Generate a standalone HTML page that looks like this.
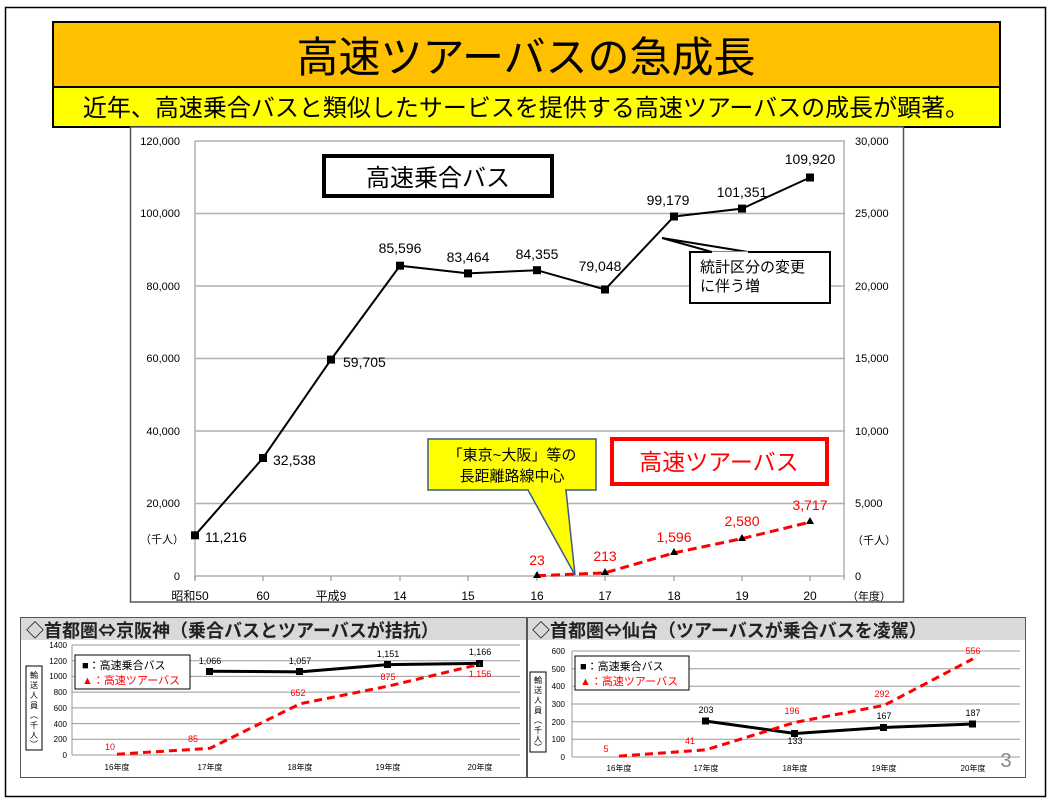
<!DOCTYPE html>
<html><head><meta charset="utf-8"><style>
body{margin:0;background:#fff;}
svg{display:block;font-family:"Liberation Sans","Noto Sans CJK JP",sans-serif;}
.cjk{font-family:"Noto Sans CJK JP","Liberation Sans",sans-serif;}
</style></head><body>
<svg width="1051" height="803" viewBox="0 0 1051 803" xmlns="http://www.w3.org/2000/svg">
<rect x="5.5" y="7.5" width="1040" height="789" fill="#fff" stroke="#000" stroke-width="1.5"/>
<rect x="53" y="22" width="947" height="65" fill="#FFC000" stroke="#000" stroke-width="2"/>
<text x="526" y="72" font-size="42" text-anchor="middle" fill="#000">高速ツアーバスの急成長</text>
<rect x="53" y="87" width="947" height="40" fill="#FFFF00" stroke="#000" stroke-width="2"/>
<text x="526" y="116" font-size="24" text-anchor="middle" fill="#000">近年、高速乗合バスと類似したサービスを提供する高速ツアーバスの成長が顕著。</text>
<rect x="130.5" y="127" width="773" height="475" fill="#fff" stroke="#555" stroke-width="1.5"/>
<g stroke="#b0b0b0" stroke-width="1.5">
<line x1="195" y1="141" x2="845" y2="141"/><line x1="195" y1="213.5" x2="845" y2="213.5"/>
<line x1="195" y1="286" x2="845" y2="286"/><line x1="195" y1="358.5" x2="845" y2="358.5"/>
<line x1="195" y1="431" x2="845" y2="431"/><line x1="195" y1="503.5" x2="845" y2="503.5"/>
<line x1="195" y1="576" x2="845" y2="576"/>
<line x1="195" y1="141" x2="195" y2="580"/><line x1="844" y1="141" x2="844" y2="580"/>
</g>
<g stroke="#888" stroke-width="1">
<line x1="195" y1="576" x2="195" y2="581"/><line x1="263" y1="576" x2="263" y2="581"/><line x1="331" y1="576" x2="331" y2="581"/><line x1="400" y1="576" x2="400" y2="581"/><line x1="468" y1="576" x2="468" y2="581"/><line x1="537" y1="576" x2="537" y2="581"/><line x1="605" y1="576" x2="605" y2="581"/><line x1="674" y1="576" x2="674" y2="581"/><line x1="742" y1="576" x2="742" y2="581"/><line x1="810" y1="576" x2="810" y2="581"/>
</g>
<g font-size="11" fill="#000" text-anchor="end">
<text x="180" y="145">120,000</text><text x="180" y="217">100,000</text><text x="180" y="290">80,000</text><text x="180" y="362">60,000</text><text x="180" y="435">40,000</text><text x="180" y="507">20,000</text><text x="180" y="580">0</text>
</g>
<g font-size="11" fill="#000">
<text x="855" y="145">30,000</text><text x="855" y="217">25,000</text><text x="855" y="290">20,000</text><text x="855" y="362">15,000</text><text x="855" y="435">10,000</text><text x="855" y="507">5,000</text><text x="855" y="580">0</text>
<text x="852" y="544">（千人）</text><text x="847" y="600">（年度）</text>
<text x="140" y="543">（千人）</text>
</g>
<g font-size="12" fill="#000" text-anchor="middle">
<text x="190" y="600">昭和50</text><text x="263" y="600">60</text><text x="331" y="600">平成9</text><text x="400" y="600">14</text><text x="468" y="600">15</text><text x="537" y="600">16</text><text x="605" y="600">17</text><text x="674" y="600">18</text><text x="742" y="600">19</text><text x="810" y="600">20</text>
</g>
<polyline fill="none" stroke="#000" stroke-width="2" points="195,535.3 263,458 331,359.6 400,265.7 468,273.4 537,270.2 605,289.5 674,216.5 742,208.6 810,177.5"/>
<g fill="#000">
<rect x="191" y="531.3" width="8" height="8"/><rect x="259" y="454" width="8" height="8"/><rect x="327" y="355.6" width="8" height="8"/><rect x="396" y="261.7" width="8" height="8"/><rect x="464" y="269.4" width="8" height="8"/><rect x="533" y="266.2" width="8" height="8"/><rect x="601" y="285.5" width="8" height="8"/><rect x="670" y="212.5" width="8" height="8"/><rect x="738" y="204.6" width="8" height="8"/><rect x="806" y="173.5" width="8" height="8"/>
</g>
<g font-size="14" fill="#000">
<text x="205" y="542">11,216</text><text x="273" y="465">32,538</text><text x="343" y="367">59,705</text>
<g text-anchor="middle"><text x="400" y="253">85,596</text><text x="468" y="262">83,464</text><text x="537" y="259">84,355</text><text x="600" y="271">79,048</text><text x="668" y="205">99,179</text><text x="742" y="197">101,351</text><text x="810" y="164">109,920</text></g>
</g>
<polyline fill="none" stroke="#f00" stroke-width="3" stroke-dasharray="9,5" points="537,575.7 605,572.9 674,552.9 742,538.6 810,522.1"/>
<g fill="#000">
<polygon points="537,571 541,578 533,578"/><polygon points="605,568 609,575 601,575"/><polygon points="674,548 678,555 670,555"/><polygon points="742,534 746,541 738,541"/><polygon points="810,517 814,524 806,524"/>
</g>
<g font-size="14" fill="#f00" text-anchor="middle">
<text x="537" y="565">23</text><text x="605" y="561">213</text><text x="674" y="542">1,596</text><text x="742" y="526">2,580</text><text x="810" y="510">3,717</text>
</g>
<rect x="324" y="156" width="228" height="40" fill="#fff" stroke="#000" stroke-width="4"/>
<text x="438" y="186" font-size="24" text-anchor="middle">高速乗合バス</text>
<rect x="690" y="252" width="140" height="51" fill="#fff" stroke="#000" stroke-width="2"/>
<polygon points="662,238 712,252 748,252" fill="#fff" stroke="#000" stroke-width="2"/>
<line x1="712" y1="253" x2="748" y2="253" stroke="#fff" stroke-width="3"/>
<text x="700" y="272" font-size="15">統計区分の変更</text><text x="700" y="291" font-size="15">に伴う増</text>
<polygon points="528,490 575,575 566,490" fill="#FFFF00" stroke="#3a5a8c" stroke-width="1.5"/>
<rect x="428" y="439" width="168" height="51" fill="#FFFF00" stroke="#3a5a8c" stroke-width="1.5"/>
<line x1="529" y1="490" x2="565" y2="490" stroke="#FFFF00" stroke-width="3"/>
<text x="512" y="460" font-size="15" text-anchor="middle">「東京~大阪」等の</text>
<text x="512" y="481" font-size="15" text-anchor="middle">長距離路線中心</text>
<rect x="612" y="439" width="215" height="45" fill="#fff" stroke="#f00" stroke-width="4"/>
<text x="719" y="470" font-size="23" fill="#f00" text-anchor="middle">高速ツアーバス</text>
<rect x="20.5" y="617.5" width="506" height="160" fill="#fff" stroke="#555" stroke-width="1"/>
<rect x="21" y="618" width="505" height="22" fill="#d9d9d9"/>
<text class="cjk" x="26" y="637" font-size="18" font-weight="bold" fill="#222">◇首都圏⇔京阪神（乗合バスとツアーバスが拮抗）</text>
<g stroke="#999" stroke-width="1">
<line x1="72" y1="645" x2="520" y2="645"/><line x1="72" y1="660.7" x2="520" y2="660.7"/><line x1="72" y1="676.4" x2="520" y2="676.4"/><line x1="72" y1="692.1" x2="520" y2="692.1"/><line x1="72" y1="707.9" x2="520" y2="707.9"/><line x1="72" y1="723.6" x2="520" y2="723.6"/><line x1="72" y1="739.3" x2="520" y2="739.3"/><line x1="72" y1="755" x2="520" y2="755"/><line x1="72" y1="645" x2="72" y2="755"/>
</g>
<g font-size="8" text-anchor="end" fill="#000">
<text x="67" y="648">1400</text><text x="67" y="664">1200</text><text x="67" y="679">1000</text><text x="67" y="695">800</text><text x="67" y="711">600</text><text x="67" y="727">400</text><text x="67" y="742">200</text><text x="67" y="758">0</text>
</g>
<g font-size="8" text-anchor="middle"><text x="117" y="770">16年度</text><text x="210" y="770">17年度</text><text x="300" y="770">18年度</text><text x="388" y="770">19年度</text><text x="480" y="770">20年度</text></g>
<polyline fill="none" stroke="#000" stroke-width="3" points="210,671.2 300,671.9 388,664.6 480,663.4"/>
<g fill="#000"><rect x="206" y="668" width="7" height="7"/><rect x="296" y="668" width="7" height="7"/><rect x="384" y="661" width="7" height="7"/><rect x="476" y="660" width="7" height="7"/></g>
<polyline fill="none" stroke="#f00" stroke-width="3" stroke-dasharray="8,5" points="117,754.2 210,748.3 300,703.8 388,686.2 480,664.2"/>
<g font-size="9" text-anchor="middle"><text x="210" y="664">1,066</text><text x="300" y="664">1,057</text><text x="388" y="657">1,151</text><text x="480" y="655">1,166</text></g>
<g font-size="9" text-anchor="middle" fill="#f00"><text x="110" y="750">10</text><text x="193" y="742">85</text><text x="298" y="696">652</text><text x="388" y="680">875</text><text x="480" y="677">1,156</text></g>
<rect x="75" y="655" width="115" height="34" fill="#fff" stroke="#000" stroke-width="1"/>
<text x="82" y="669" font-size="11">■：高速乗合バス</text><text x="82" y="684" font-size="11" fill="#f00">▲：高速ツアーバス</text>
<rect x="26" y="666" width="16" height="84" fill="#fff" stroke="#000" stroke-width="1"/>
<text x="34" y="678" font-size="8" text-anchor="middle">輸</text><text x="34" y="688" font-size="8" text-anchor="middle">送</text><text x="34" y="698" font-size="8" text-anchor="middle">人</text><text x="34" y="708" font-size="8" text-anchor="middle">員</text><text x="34" y="718" font-size="8" text-anchor="middle">︵</text><text x="34" y="728" font-size="8" text-anchor="middle">千</text><text x="34" y="738" font-size="8" text-anchor="middle">人</text><text x="34" y="747" font-size="8" text-anchor="middle">︶</text>
<rect x="527.5" y="617.5" width="498" height="160" fill="#fff" stroke="#555" stroke-width="1"/>
<rect x="528" y="618" width="497" height="22" fill="#d9d9d9"/>
<text class="cjk" x="532" y="637" font-size="18" font-weight="bold" fill="#222">◇首都圏⇔仙台（ツアーバスが乗合バスを凌駕）</text>
<g stroke="#999" stroke-width="1">
<line x1="572" y1="651" x2="1020" y2="651"/><line x1="572" y1="668.7" x2="1020" y2="668.7"/><line x1="572" y1="686.3" x2="1020" y2="686.3"/><line x1="572" y1="704" x2="1020" y2="704"/><line x1="572" y1="721.7" x2="1020" y2="721.7"/><line x1="572" y1="739.3" x2="1020" y2="739.3"/><line x1="572" y1="757" x2="1020" y2="757"/><line x1="572" y1="651" x2="572" y2="757"/>
</g>
<g font-size="8" text-anchor="end"><text x="565" y="654">600</text><text x="565" y="672">500</text><text x="565" y="689">400</text><text x="565" y="707">300</text><text x="565" y="725">200</text><text x="565" y="742">100</text><text x="565" y="760">0</text></g>
<g font-size="8" text-anchor="middle"><text x="619" y="771">16年度</text><text x="706" y="771">17年度</text><text x="795" y="771">18年度</text><text x="884" y="771">19年度</text><text x="973" y="771">20年度</text></g>
<polyline fill="none" stroke="#000" stroke-width="3" points="706,721.1 795,733.5 884,727.5 973,724"/>
<g fill="#000"><rect x="702" y="717.5" width="7" height="7"/><rect x="791" y="730" width="7" height="7"/><rect x="880" y="724" width="7" height="7"/><rect x="969" y="720.5" width="7" height="7"/></g>
<polyline fill="none" stroke="#f00" stroke-width="3" stroke-dasharray="8,5" points="619,756.1 706,749.8 795,722.4 884,705.4 973,658.8"/>
<g font-size="9" text-anchor="middle"><text x="706" y="713">203</text><text x="795" y="744">133</text><text x="884" y="719">167</text><text x="973" y="716">187</text></g>
<g font-size="9" text-anchor="middle" fill="#f00"><text x="606" y="752">5</text><text x="690" y="744">41</text><text x="792" y="714">196</text><text x="882" y="697">292</text><text x="973" y="654">556</text></g>
<rect x="575" y="656" width="114" height="34" fill="#fff" stroke="#000" stroke-width="1"/>
<text x="580" y="670" font-size="11">■：高速乗合バス</text><text x="580" y="685" font-size="11" fill="#f00">▲：高速ツアーバス</text>
<rect x="530" y="672" width="16" height="80" fill="#fff" stroke="#000" stroke-width="1"/>
<text x="538" y="683" font-size="8" text-anchor="middle">輸</text><text x="538" y="693" font-size="8" text-anchor="middle">送</text><text x="538" y="703" font-size="8" text-anchor="middle">人</text><text x="538" y="713" font-size="8" text-anchor="middle">員</text><text x="538" y="723" font-size="8" text-anchor="middle">︵</text><text x="538" y="733" font-size="8" text-anchor="middle">千</text><text x="538" y="742" font-size="8" text-anchor="middle">人</text><text x="538" y="750" font-size="8" text-anchor="middle">︶</text>
<text x="1006" y="767" font-size="20" fill="#888" text-anchor="middle">3</text>
</svg>
</body></html>
